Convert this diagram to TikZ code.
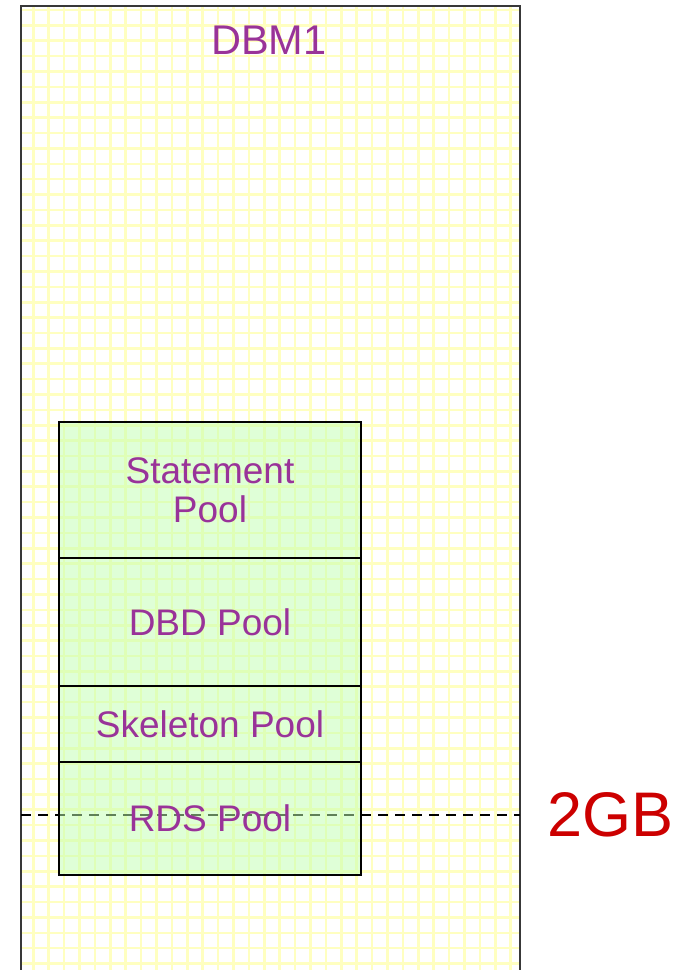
\documentclass[tikz,border=0pt]{standalone}
\usepackage{fontspec}
\setmainfont{Liberation Sans}
\definecolor{gridc}{HTML}{FFFFC0}
\definecolor{txtp}{HTML}{993399}
\definecolor{txtr}{HTML}{CC0000}
\definecolor{poolfill}{HTML}{C0FFB0}
\definecolor{framec}{HTML}{383838}
\begin{document}
\begin{tikzpicture}[x=1pt,y=-1pt,
  pool/.style={draw=black, line width=2pt, fill=poolfill, fill opacity=0.5, text opacity=1,
    minimum width=302pt, inner sep=0pt, align=center, text=txtp,
    font=\fontsize{37}{40}\selectfont},
  gridline/.style={draw=gridc, line width=2.6pt}]
\useasboundingbox (0,0) rectangle (686,970);
\fill[white] (0,0) rectangle (686,970);
\begin{scope}
\clip (21,6) rectangle (520,975);
\foreach \i in {0,...,31} \draw[gridline] (33.3+\i*15.4,0) -- ++(0,980);
\foreach \j in {0,...,62} \draw[gridline] (0,10+\j*15.38) -- ++(530,0);
\end{scope}
\draw[framec, line width=2pt] (21,980) -- (21,6) -- (520,6) -- (520,980);
\node[text=txtp, font=\fontsize{41.5}{44}\selectfont] (dbm) at (269,40) {DBM1};
\coordinate (dl) at (21,815);
\coordinate (dr) at (520,815);
\draw[line width=2pt, dash pattern=on 10pt off 7pt] (dl) -- (dr);
\node[pool, minimum height=136pt] (stmt) at (210,490) {Statement\\[-1pt]Pool};
\node[pool, minimum height=128pt] (dbd) at (210,622) {DBD Pool};
\node[pool, minimum height=76pt] (skel) at (210,724) {Skeleton Pool};
\node[pool, minimum height=113pt] (rds) at (210,818.5) {RDS Pool};
\node[text=txtr, font=\fontsize{63}{66}\selectfont] (gb) at (610.5,815) {2GB};
\end{tikzpicture}
\end{document}
